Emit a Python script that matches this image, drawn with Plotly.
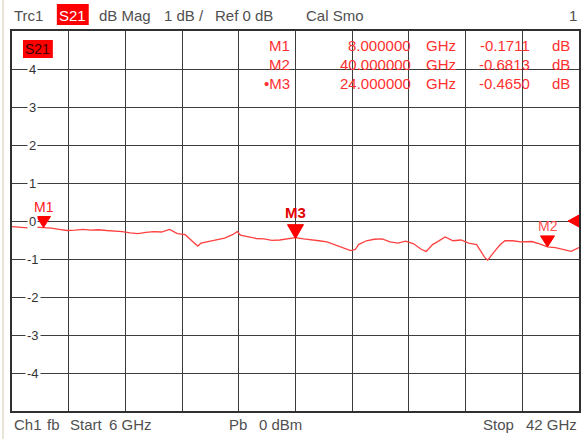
import plotly.graph_objects as go

# ---------------- data ----------------
freq_ghz = [6.0, 6.5, 7.0, 7.5, 8.0, 8.5, 9.0, 9.5, 10.0, 10.5, 11.0, 11.5, 12.0, 12.5,
            13.0, 13.5, 14.0, 14.5, 15.0, 15.5, 16.0, 16.5, 17.0, 17.5, 17.8, 18.0, 18.5,
            19.0, 19.5, 20.0, 20.3, 20.5, 21.0, 21.5, 22.0, 22.5, 23.0, 23.5, 24.0, 24.5,
            25.0, 25.5, 26.0, 26.5, 27.0, 27.5, 27.8, 28.0, 28.5, 29.0, 29.5, 30.0, 30.5,
            31.0, 31.5, 32.0, 32.3, 32.7, 33.0, 33.5, 34.0, 34.5, 35.0, 35.5, 36.0, 36.2,
            36.6, 37.0, 37.3, 37.8, 38.3, 39.0, 39.5, 40.0, 40.5, 41.0, 41.5, 42.0]
s21_db = [-0.15, -0.16, -0.18, -0.16, -0.17, -0.19, -0.22, -0.25, -0.24, -0.22, -0.24, -0.23,
          -0.25, -0.26, -0.28, -0.31, -0.33, -0.30, -0.28, -0.29, -0.22, -0.33, -0.36, -0.55,
          -0.66, -0.58, -0.54, -0.50, -0.45, -0.36, -0.28, -0.37, -0.42, -0.46, -0.47, -0.51,
          -0.50, -0.46, -0.44, -0.47, -0.49, -0.52, -0.55, -0.62, -0.70, -0.78, -0.75, -0.62,
          -0.52, -0.48, -0.47, -0.55, -0.58, -0.53, -0.60, -0.75, -0.80, -0.62, -0.55, -0.42,
          -0.52, -0.50, -0.58, -0.62, -0.95, -1.03, -0.82, -0.62, -0.52, -0.52, -0.55, -0.54,
          -0.60, -0.68, -0.70, -0.76, -0.80, -0.70]

marker_names = ["M1", "M2", "M3"]
marker_freq = [8.0, 40.0, 24.0]
marker_val = [-0.1711, -0.6813, -0.4650]
marker_freq_text = ["8.000000", "40.000000", "24.000000"]
marker_val_text = ["-0.1711", "-0.6813", "-0.4650"]
table_names = ["M1", "M2", "\u2022M3"]

y_tick_vals = [4, 3, 2, 1, 0, -1, -2, -3, -4]

header_items = [("Trc1", 12), ("dB Mag", 97), ("1 dB /", 163), ("Ref 0 dB", 214), ("Cal Smo", 305)]
footer_items = [("Ch1", 12), ("fb", 45), ("Start", 68), ("6 GHz", 107), ("Pb", 228), ("0 dBm", 258), ("Stop", 483)]

# ---------------- layout geometry ----------------
W, H = 581, 439
L, R, T, B = 12, 0, 31, 28
PW, PH = W - L - R, H - T - B
FONT = "Liberation Sans"
RED = "#ff3030"
GREY = "#505050"


def px(xp):
    return (xp - L) / PW


def py(yp):
    return (H - B - yp) / PH


fig = go.Figure()
fig.add_trace(go.Scatter(x=freq_ghz, y=s21_db, mode="lines",
                         line=dict(color="#ff4040", width=1.3), hoverinfo="skip"))

annotations = []
shapes = []

# header
for txt, xl in header_items:
    annotations.append(dict(text=txt, x=px(xl), y=py(15), xref="paper", yref="paper",
                            xanchor="left", yanchor="middle", showarrow=False,
                            font=dict(family=FONT, size=15, color=GREY)))
shapes.append(dict(type="rect", xref="paper", yref="paper", x0=px(57), x1=px(89),
                   y0=py(25), y1=py(4), fillcolor="#ff0000", line=dict(width=0)))
annotations.append(dict(text="S21", x=px(73), y=py(15), xref="paper", yref="paper",
                        xanchor="center", yanchor="middle", showarrow=False,
                        font=dict(family=FONT, size=15, color="white")))
annotations.append(dict(text="1", x=px(581), y=py(15), xref="paper", yref="paper",
                        xanchor="right", yanchor="middle", showarrow=False,
                        font=dict(family=FONT, size=15, color=GREY)))

# footer
for txt, xl in footer_items:
    annotations.append(dict(text=txt, x=px(xl), y=py(424), xref="paper", yref="paper",
                            xanchor="left", yanchor="middle", showarrow=False,
                            font=dict(family=FONT, size=15, color=GREY)))
annotations.append(dict(text="42 GHz", x=px(581), y=py(424), xref="paper", yref="paper",
                        xanchor="right", yanchor="middle", showarrow=False,
                        font=dict(family=FONT, size=15, color=GREY)))

# S21 tag inside plot
shapes.append(dict(type="rect", xref="paper", yref="paper", x0=px(23), x1=px(53),
                   y0=py(58), y1=py(40), fillcolor="#ff0000", line=dict(width=0)))
annotations.append(dict(text="S21", x=px(38), y=py(49), xref="paper", yref="paper",
                        xanchor="center", yanchor="middle", showarrow=False,
                        font=dict(family=FONT, size=14, color="#400000")))

# y tick labels inside plot, breaking the grid line
for v in y_tick_vals:
    annotations.append(dict(text=str(v), x=px(33), y=v, xref="paper", yref="y",
                            xanchor="center", yanchor="middle", showarrow=False,
                            bgcolor="white", borderpad=1,
                            font=dict(family=FONT, size=13, color="#333333")))

# marker table
row_y = [45, 64, 83]
for i in range(3):
    f = dict(family=FONT, size=15, color=RED)
    yy = py(row_y[i])
    annotations += [
        dict(text=table_names[i], x=px(293), y=yy, xref="paper", yref="paper",
             xanchor="right", yanchor="middle", showarrow=False, font=f),
        dict(text=marker_freq_text[i], x=px(414), y=yy, xref="paper", yref="paper",
             xanchor="right", yanchor="middle", showarrow=False, font=f),
        dict(text="GHz", x=px(425), y=yy, xref="paper", yref="paper",
             xanchor="left", yanchor="middle", showarrow=False, font=f),
        dict(text=marker_val_text[i], x=px(534), y=yy, xref="paper", yref="paper",
             xanchor="right", yanchor="middle", showarrow=False, font=f),
        dict(text="dB", x=px(552), y=yy, xref="paper", yref="paper",
             xanchor="left", yanchor="middle", showarrow=False, font=f),
    ]

# marker triangles and labels
tri = {"M1": (7, 11), "M2": (7, 11), "M3": (8, 14)}
lab_col = {"M1": "#ff2020", "M2": "#ff5050", "M3": "#e00000"}
lab_gap = {"M1": 0, "M2": 0, "M3": 2}
for name, fx, fv in zip(marker_names, marker_freq, marker_val):
    hw, hh = tri[name]
    shapes.append(dict(type="path", xref="x", yref="y", xsizemode="pixel", ysizemode="pixel",
                       xanchor=fx, yanchor=fv,
                       path=f"M {-hw},{hh} L {hw},{hh} L 0,0 Z",
                       fillcolor="#ff0000", line=dict(color="#ff0000", width=1)))
    lbl = f"<b>{name}</b>" if name == "M3" else name
    annotations.append(dict(text=lbl, x=fx, y=fv, xref="x", yref="y", xanchor="center",
                            yanchor="bottom", yshift=hh + lab_gap[name], showarrow=False,
                            font=dict(family=FONT, size=15 if name == "M3" else 14,
                                      color=lab_col[name])))

# reference-level arrow at right edge
shapes.append(dict(type="path", xref="x", yref="y", xsizemode="pixel", ysizemode="pixel",
                   xanchor=42, yanchor=0, path="M 0,6 L -11,0 L 0,-6 Z",
                   fillcolor="#ff0000", line=dict(color="#ff0000", width=1)))

# light left strip
shapes.append(dict(type="line", xref="paper", yref="paper", x0=px(3), x1=px(3),
                   y0=py(H), y1=py(0), line=dict(color="#e8e4d8", width=2)))

fig.update_layout(
    width=W, height=H, margin=dict(l=L, r=R, t=T, b=B),
    paper_bgcolor="white", plot_bgcolor="white", showlegend=False,
    annotations=annotations, shapes=shapes,
    xaxis=dict(range=[6, 42], tick0=6, dtick=3.6, showticklabels=False, ticks="",
               showgrid=True, gridcolor="#3c3c3c", gridwidth=1.4, zeroline=False,
               showline=True, linecolor="#303030", linewidth=1.5, mirror=True),
    yaxis=dict(range=[-5, 5], tick0=0, dtick=1, showticklabels=False, ticks="",
               showgrid=True, gridcolor="#3c3c3c", gridwidth=1.4, zeroline=False,
               showline=True, linecolor="#303030", linewidth=1.5, mirror=True),
)

fig.write_html("out.html", config={"displayModeBar": False},
               post_script="document.body.style.margin='0';document.body.style.overflow='hidden';")
